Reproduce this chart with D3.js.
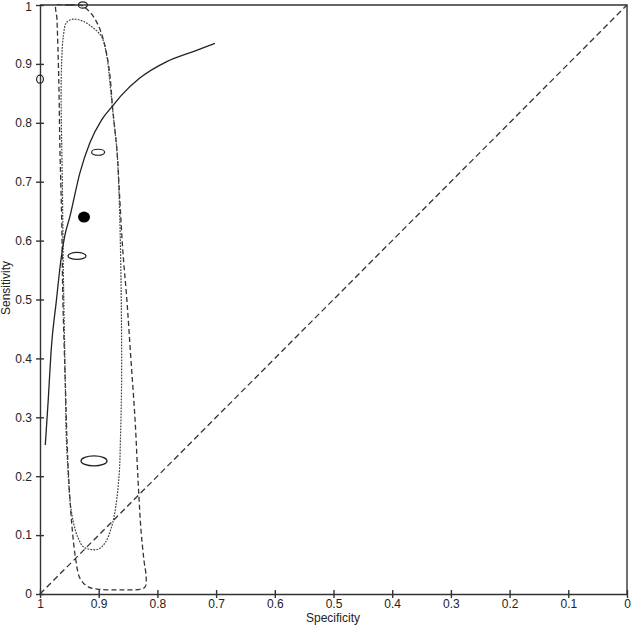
<!DOCTYPE html>
<html>
<head>
<meta charset="utf-8">
<script src="https://cdn.jsdelivr.net/npm/d3@7"></script>
<style>
  body { margin: 0; background: #fff; }
  svg { display: block; font-family: "Liberation Sans", Arial, sans-serif; }
  .axis path, .axis line { stroke: #333; stroke-width: 1.4; }
  .axis text { fill: #222; font-size: 12px; }
</style>
</head>
<body>
<div id="chart"></div>
<script>
const tickValues = [1, 0.9, 0.8, 0.7, 0.6, 0.5, 0.4, 0.3, 0.2, 0.1, 0];
const tickLabels = ['1', '0.9', '0.8', '0.7', '0.6', '0.5', '0.4', '0.3', '0.2', '0.1', '0'];

// individual studies: specificity, sensitivity, relative weight (negatives, positives)
const studySpec = [1.0, 0.927, 0.901, 0.937, 0.908];
const studySens = [0.874, 1.0, 0.750, 0.574, 0.226];
const studyNegWeight = [3.4, 4.5, 6.5, 9, 13];
const studyPosWeight = [4, 3.2, 3, 3.5, 5];

// summary point
const summarySpec = 0.925;
const summarySens = 0.640;

// SROC curve
const srocSpec = [0.991, 0.986, 0.981, 0.972, 0.965, 0.958, 0.949, 0.932, 0.915, 0.895, 0.875, 0.861, 0.830, 0.784, 0.739, 0.702];
const srocSens = [0.253, 0.329, 0.414, 0.499, 0.562, 0.607, 0.641, 0.715, 0.766, 0.805, 0.830, 0.847, 0.876, 0.904, 0.921, 0.935];

// 95% confidence region (dotted)
const confSpec = [0.943, 0.926, 0.909, 0.895, 0.886, 0.881, 0.875, 0.869, 0.865, 0.862, 0.861, 0.863, 0.865, 0.871, 0.878, 0.889, 0.901, 0.915, 0.926, 0.935, 0.943, 0.949, 0.952, 0.955, 0.957, 0.960, 0.962, 0.964, 0.963, 0.960, 0.955];
const confSens = [0.976, 0.972, 0.961, 0.946, 0.912, 0.868, 0.810, 0.754, 0.669, 0.533, 0.363, 0.261, 0.205, 0.148, 0.114, 0.087, 0.076, 0.076, 0.080, 0.095, 0.121, 0.160, 0.205, 0.261, 0.363, 0.533, 0.703, 0.839, 0.907, 0.949, 0.970];

// 95% prediction region (dashed)
const predSpec = [0.972, 0.949, 0.932, 0.915, 0.901, 0.891, 0.882, 0.876, 0.869, 0.864, 0.859, 0.852, 0.845, 0.838, 0.833, 0.828, 0.823, 0.819, 0.821, 0.830, 0.864, 0.898, 0.918, 0.932, 0.939, 0.945, 0.950, 0.954, 0.957, 0.961, 0.963, 0.966, 0.968, 0.971];
const predSens = [1.0, 1.0, 1.0, 0.988, 0.966, 0.937, 0.890, 0.822, 0.754, 0.669, 0.584, 0.499, 0.397, 0.295, 0.194, 0.109, 0.058, 0.027, 0.012, 0.008, 0.007, 0.008, 0.012, 0.027, 0.058, 0.109, 0.177, 0.261, 0.363, 0.499, 0.635, 0.754, 0.873, 0.975];

const W = 631, H = 628;
const margin = { top: 5, right: 4, bottom: 34, left: 40 };

const svg = d3.select('#chart').append('svg').attr('width', W).attr('height', H);

const x = d3.scaleLinear().domain([1, 0]).range([margin.left, W - margin.right]);
const y = d3.scaleLinear().domain([0, 1]).range([H - margin.bottom, margin.top]);
const label = (d) => tickLabels[tickValues.indexOf(d)];

svg.append('defs').append('clipPath').attr('id', 'plot-clip')
  .append('rect')
  .attr('x', x(1)).attr('y', y(1) - 1)
  .attr('width', x(0) - x(1)).attr('height', y(0) - y(1) + 1);

// frame (top and right)
svg.append('path')
  .attr('d', `M${x(1)},${y(1)}H${x(0)}V${y(0)}`)
  .attr('fill', 'none').attr('stroke', '#333').attr('stroke-width', 1.4);

const xAxis = svg.append('g')
  .attr('class', 'axis')
  .attr('transform', `translate(0,${y(0)})`)
  .call(d3.axisBottom(x).tickValues(tickValues).tickFormat(label).tickSizeInner(4).tickSizeOuter(0).tickPadding(1));
xAxis.selectAll('.tick line').attr('y1', -4);

const yAxis = svg.append('g')
  .attr('class', 'axis')
  .attr('transform', `translate(${x(1)},0)`)
  .call(d3.axisLeft(y).tickValues(tickValues).tickFormat(label).tickSizeInner(4).tickSizeOuter(0).tickPadding(4));
yAxis.selectAll('.tick line').attr('x1', 4);
yAxis.selectAll('.tick text').filter((d) => d === 1).attr('dy', '0.45em');

svg.append('text')
  .attr('x', 333).attr('y', 622)
  .attr('text-anchor', 'middle')
  .attr('font-size', 12).attr('fill', '#222')
  .text('Specificity');

svg.append('text')
  .attr('transform', `translate(10,${288}) rotate(-90)`)
  .attr('text-anchor', 'middle')
  .attr('font-size', 12).attr('fill', '#222')
  .text('Sensitivity');

const plot = svg.append('g');

// chance diagonal
plot.append('line')
  .attr('x1', x(1)).attr('y1', y(0))
  .attr('x2', x(0)).attr('y2', y(1))
  .attr('stroke', '#333').attr('stroke-width', 1.3)
  .attr('stroke-dasharray', '6,3.5');

const region = d3.line()
  .x((d) => x(d[0]))
  .y((d) => y(d[1]))
  .curve(d3.curveCatmullRomClosed.alpha(0.5));

plot.append('path')
  .attr('d', region(predSpec.map((s, i) => [s, predSens[i]])))
  .attr('clip-path', 'url(#plot-clip)')
  .attr('fill', 'none').attr('stroke', '#333').attr('stroke-width', 1.3)
  .attr('stroke-dasharray', '5,3');

plot.append('path')
  .attr('d', region(confSpec.map((s, i) => [s, confSens[i]])))
  .attr('fill', 'none').attr('stroke', '#444').attr('stroke-width', 1.2)
  .attr('stroke-dasharray', '1.8,1.2');

const sroc = d3.line()
  .x((d) => x(d[0]))
  .y((d) => y(d[1]))
  .curve(d3.curveMonotoneX);

plot.append('path')
  .attr('d', sroc(srocSpec.map((s, i) => [s, srocSens[i]])))
  .attr('fill', 'none').attr('stroke', '#222').attr('stroke-width', 1.3);

const rx = d3.scaleLinear().domain([0, 10]).range([0, 10]);
const ry = d3.scaleLinear().domain([0, 10]).range([0, 10]);

plot.selectAll('ellipse.study')
  .data(studySpec.map((s, i) => ({ spec: s, sens: studySens[i], neg: studyNegWeight[i], pos: studyPosWeight[i] })))
  .join('ellipse')
  .attr('class', 'study')
  .attr('cx', (d) => x(d.spec))
  .attr('cy', (d) => y(d.sens))
  .attr('rx', (d) => rx(d.neg))
  .attr('ry', (d) => ry(d.pos))
  .attr('fill', 'none')
  .attr('stroke', '#222')
  .attr('stroke-width', 1.2);

plot.append('ellipse')
  .attr('cx', x(summarySpec)).attr('cy', y(summarySens))
  .attr('rx', 6).attr('ry', 5.5)
  .attr('fill', '#000');
</script>
</body>
</html>
